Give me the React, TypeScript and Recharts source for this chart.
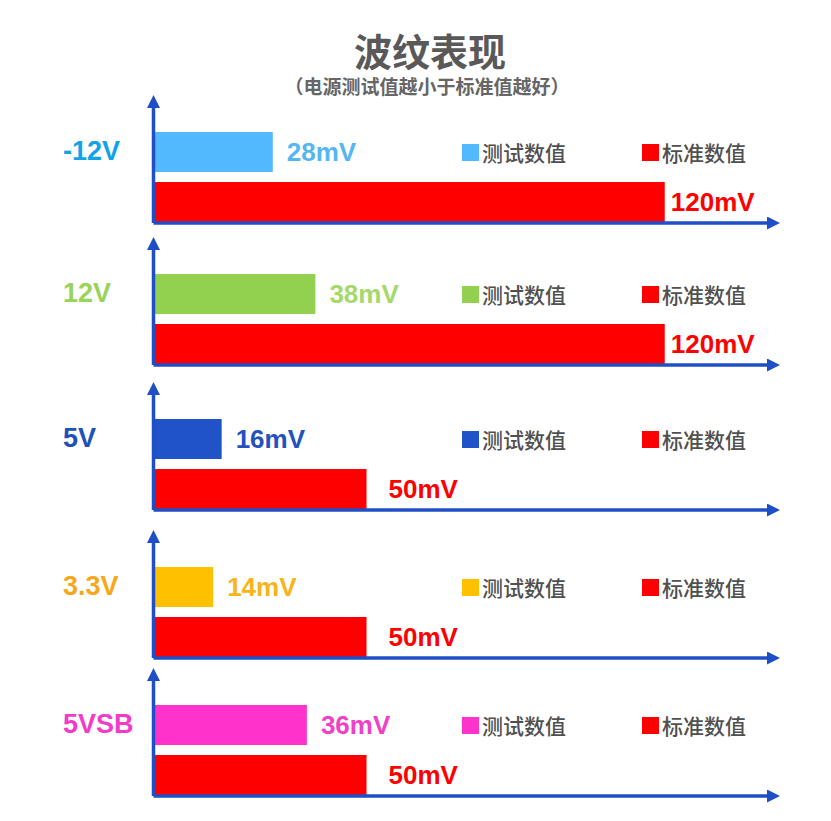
import React from 'react';
import { BarChart, Bar, XAxis, YAxis, Cell, LabelList, Legend } from 'recharts';

// rails and their ripple readings (mV)
const rails = ['-12V', '12V', '5V', '3.3V', '5VSB'];
const measured = [28, 38, 16, 14, 36];
const standard = [120, 120, 50, 50, 50];
const seriesNames = ['测试数值', '标准数值'];

const railColors = ['#12a2e6', '#98d35a', '#2150b8', '#f5a81c', '#f23cc9'];
const barColors = ['#53b9fe', '#92d050', '#2052c8', '#ffc000', '#ff33cc'];
const valueColors = ['#55b6f2', '#a5d96b', '#2352bf', '#f8b41a', '#f240c6'];
const RED = '#ff0000';
const AXIS = '#1f4fc6';
const panelTops = [92, 234, 379, 527, 665];
const redGap = [6, 6, 22, 22, 22];

const LATIN = "'Liberation Sans', Arial, 'Noto Sans CJK SC', sans-serif";
const CJK = "'Noto Sans CJK SC', 'Noto Sans', sans-serif";

function Panel({ i }: { i: number }) {
  const data = [
    { name: seriesNames[0], value: measured[i] },
    { name: seriesNames[1], value: standard[i] },
  ];
  const mk = `arrow${i}`;

  const renderTick = (p: any) =>
    p.index === 0 ? (
      <text x={63} y={p.y} dy={-1} textAnchor="start" dominantBaseline="central"
        fill={railColors[i]} fontSize={27} fontWeight="bold" fontFamily={LATIN}>
        {rails[i]}
      </text>
    ) : <g />;

  const renderValue = (p: any) => {
    const vb = p.viewBox ?? p;
    const isTest = p.value === measured[i];
    const gap = isTest ? 14 : redGap[i];
    return (
      <text x={vb.x + vb.width + gap} y={vb.y + vb.height / 2} dominantBaseline="central"
        fill={isTest ? valueColors[i] : RED} fontSize={26} fontWeight="bold" fontFamily={LATIN}>
        {p.value}mV
      </text>
    );
  };

  const renderLegend = () => (
    <div style={{ display: 'flex', height: 24, alignItems: 'center' }}>
      {seriesNames.map((s, k) => (
        <div key={s} style={{ width: 180, flex: 'none', display: 'flex', alignItems: 'center' }}>
          <span style={{ width: 17, height: 17, background: k === 0 ? barColors[i] : RED, marginRight: 3, flex: 'none' }} />
          <span style={{ fontSize: 21, lineHeight: '24px', color: '#505050', fontWeight: 500, fontFamily: CJK }}>{s}</span>
        </div>
      ))}
    </div>
  );

  return (
    <div style={{ position: 'absolute', left: 0, top: panelTops[i] }}>
      <BarChart width={831} height={141} data={data} layout="vertical" barCategoryGap={5}
        margin={{ top: 16, right: 64, bottom: 8, left: 0 }}>
        <defs>
          <marker id={mk} viewBox="0 0 13 13" refX={0} refY={6.5} markerWidth={13} markerHeight={13}
            markerUnits="userSpaceOnUse" orient="auto-start-reverse">
            <path d="M0,0 L13,6.5 L0,13 Z" fill={AXIS} />
          </marker>
        </defs>
        <XAxis type="number" domain={[0, 144]} height={2} tick={false} tickLine={false}
          axisLine={{ stroke: AXIS, strokeWidth: 3.5, markerEnd: `url(#${mk})` }} />
        <YAxis type="category" dataKey="name" width={153.5} padding={{ top: 19, bottom: -4 }}
          tickLine={false} tick={renderTick}
          axisLine={{ stroke: AXIS, strokeWidth: 3.5, markerStart: `url(#${mk})` }} />
        <Legend layout="horizontal" verticalAlign="middle" align="center"
          wrapperStyle={{ left: 462, top: 48, width: 360, height: 24 }} content={renderLegend} />
        <Bar dataKey="value" isAnimationActive={false}>
          {data.map((d, k) => (
            <Cell key={d.name} fill={k === 0 ? barColors[i] : RED} />
          ))}
          <LabelList dataKey="value" content={renderValue} />
        </Bar>
      </BarChart>
    </div>
  );
}

export default function App() {
  return (
    <div style={{ position: 'absolute', left: 0, top: 0, width: 831, height: 821, background: '#fff', overflow: 'hidden' }}>
      <div style={{ position: 'absolute', left: 0, top: 32, width: 860, textAlign: 'center', fontSize: 38, lineHeight: '36px', fontWeight: 'bold', color: '#595959', fontFamily: CJK }}>
        波纹表现
      </div>
      <div style={{ position: 'absolute', left: 0, top: 76, width: 854, textAlign: 'center', fontSize: 19, lineHeight: '20px', fontWeight: 'bold', color: '#666', fontFamily: CJK }}>
        （电源测试值越小于标准值越好）
      </div>
      {rails.map((r, i) => (
        <Panel key={r} i={i} />
      ))}
    </div>
  );
}
